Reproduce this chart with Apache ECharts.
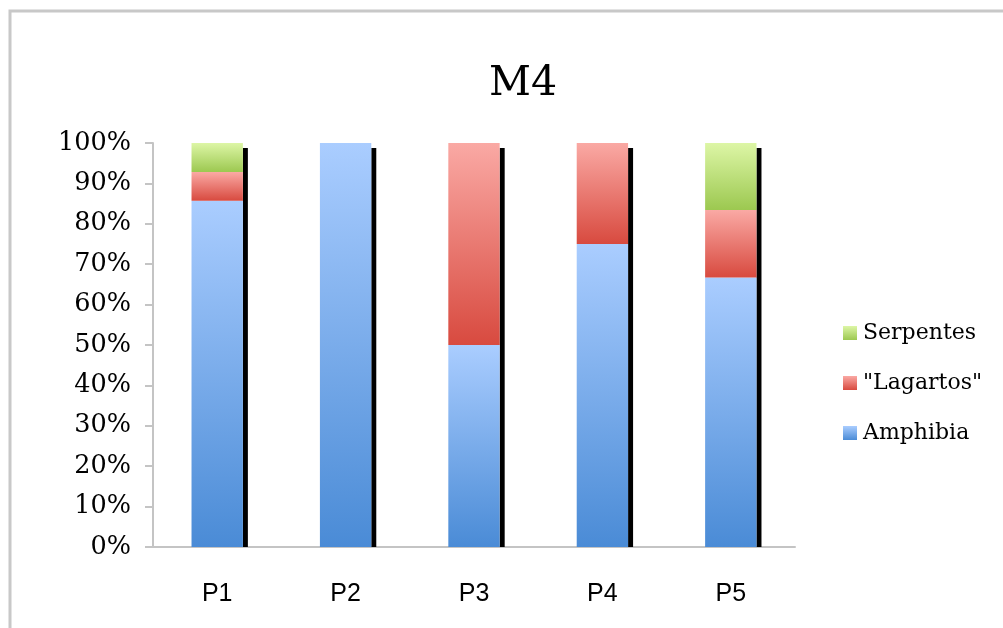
<!DOCTYPE html>
<html>
<head>
<meta charset="utf-8">
<script src="https://cdn.jsdelivr.net/npm/echarts@6/dist/echarts.min.js"></script>
<style>
html,body{margin:0;padding:0;background:#fff;}
#c{width:1003px;height:628px;}
</style>
</head>
<body>
<div id="c"></div>
<script>
var categories = ['P1', 'P2', 'P3', 'P4', 'P5'];
var amphibia = [85.7, 100, 50, 75, 66.7];
var lagartos = [7.1, 0, 50, 25, 16.7];
var serpentes = [7.2, 0, 0, 0, 16.6];
var seriesNames = ['Amphibia', '"Lagartos"', 'Serpentes'];
var legendOrder = ['Serpentes', '"Lagartos"', 'Amphibia'];

var totals = categories.map(function (c, i) { return [i, amphibia[i] + lagartos[i] + serpentes[i]]; });

function grad(top, bottom) {
  return new echarts.graphic.LinearGradient(0, 0, 0, 1, [
    { offset: 0, color: top }, { offset: 1, color: bottom }
  ]);
}
var BARW = 0.4;
var chart = echarts.init(document.getElementById('c'), null, { renderer: 'canvas' });
chart.setOption({
  animation: false,
  backgroundColor: '#fff',
  graphic: [{
    type: 'rect', silent: true, z: 100,
    shape: { x: 10, y: 11, width: 1100, height: 700 },
    style: { fill: 'none', stroke: '#c8c8c8', lineWidth: 3 }
  }],
  title: {
    text: 'M4', left: 484, top: 59,
    textStyle: { fontFamily: 'DejaVu Serif', fontSize: 41, fontWeight: 'normal', color: '#000' }
  },
  legend: {
    data: legendOrder, orient: 'vertical', left: 838, top: 317,
    itemWidth: 14, itemHeight: 14, itemGap: 28, icon: 'rect',
    textStyle: { fontFamily: 'DejaVu Serif', fontSize: 22, color: '#000', padding: [0, 0, 0, 1] }
  },
  grid: { left: 153, right: 208, top: 143, bottom: 81, containLabel: false },
  xAxis: {
    type: 'category', data: categories,
    axisLine: { lineStyle: { color: '#c4c4c4', width: 2 } },
    axisTick: { length: 8, lineStyle: { color: '#c4c4c4', width: 2 } },
    axisLabel: { fontFamily: 'Liberation Sans', fontSize: 25, color: '#000', margin: 35 }
  },
  yAxis: {
    type: 'value', min: 0, max: 100, interval: 10,
    axisLine: { show: true, lineStyle: { color: '#c4c4c4', width: 2 } },
    axisTick: { show: true, length: 8, lineStyle: { color: '#c4c4c4', width: 2 } },
    splitLine: { show: false },
    axisLabel: { fontFamily: 'DejaVu Serif', fontSize: 25.5, color: '#000', margin: 22,
      formatter: function (v) { return v + '%'; } }
  },
  series: [
    {
      type: 'custom', name: 'shadow', z: 1, silent: true,
      encode: { x: 0, y: 1 },
      data: totals,
      renderItem: function (params, api) {
        var top = api.coord([api.value(0), api.value(1)]);
        var bot = api.coord([api.value(0), 0]);
        var bw = api.size([1, 0])[0] * BARW;
        return {
          type: 'rect',
          shape: { x: top[0] + bw / 2, y: top[1] + 5, width: 5, height: bot[1] - top[1] - 5 },
          style: { fill: '#000' }
        };
      }
    },
    { type: 'bar', name: seriesNames[0], stack: 's', data: amphibia, barWidth: '40%', z: 2,
      itemStyle: { color: grad('#aacdff', '#4a8bd6') } },
    { type: 'bar', name: seriesNames[1], stack: 's', data: lagartos, barWidth: '40%', z: 2,
      itemStyle: { color: grad('#faa9a4', '#d84a3f') } },
    { type: 'bar', name: seriesNames[2], stack: 's', data: serpentes, barWidth: '40%', z: 2,
      itemStyle: { color: grad('#ddf6a6', '#9cc850') } }
  ]
});
</script>
</body>
</html>
